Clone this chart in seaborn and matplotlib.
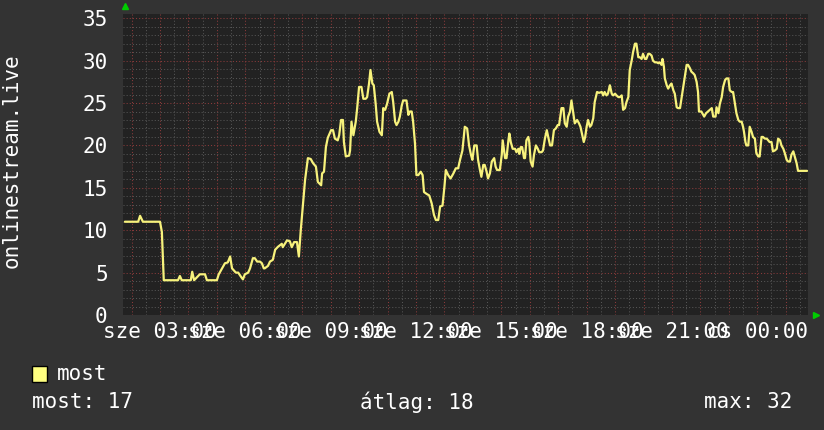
import pandas as pd
import matplotlib
matplotlib.use("Agg")
import matplotlib.pyplot as plt
from matplotlib.patches import Rectangle
import seaborn as sns

# minutes since 00:00 (sze), viewer count
minutes = [106, 134, 138, 144, 180, 184, 188, 218, 222, 226, 245, 248, 252, 264, 275, 279, 300, 304, 311, 317,
           323, 328, 332, 340, 345, 351, 355, 359, 366, 370, 376, 380, 385, 391, 395, 399, 401, 408, 412, 418,
           423, 429, 437, 439, 448, 454, 458, 463, 469, 473, 477, 482, 486, 492, 498, 503, 509, 513, 520, 522,
           526, 530, 534, 541, 545, 549, 555, 558, 562, 566, 568, 572, 579, 581, 584, 588, 593, 596, 600, 605,
           609, 614, 617, 621, 624, 628, 631, 635, 638, 643, 648, 651, 655, 659, 664, 669, 672, 676, 679, 683,
           686, 690, 693, 700, 704, 707, 711, 714, 718, 721, 725, 730, 734, 737, 742, 748, 753, 758, 762, 767,
           771, 776, 780, 783, 788, 793, 799, 804, 809, 813, 818, 823, 828, 832, 836, 839, 843, 848, 851, 855,
           858, 862, 865, 869, 872, 876, 880, 885, 888, 891, 897, 901, 903, 908, 911, 915, 917, 920, 924, 929,
           932, 936, 938, 941, 944, 948, 950, 953, 957, 959, 962, 966, 969, 973, 977, 980, 985, 988, 992, 996,
           999, 1003, 1007, 1011, 1015, 1019, 1022, 1025, 1027, 1031, 1034, 1038, 1041, 1045, 1048, 1052, 1055,
           1060, 1064, 1067, 1071, 1074, 1077, 1080, 1083, 1087, 1090, 1094, 1097, 1102, 1106, 1112, 1115, 1118,
           1122, 1125, 1129, 1133, 1136, 1140, 1143, 1147, 1150, 1154, 1157, 1161, 1164, 1168, 1171, 1175, 1178,
           1182, 1185, 1189, 1192, 1196, 1199, 1203, 1206, 1210, 1213, 1217, 1220, 1224, 1228, 1231, 1234, 1238,
           1240, 1243, 1245, 1249, 1252, 1256, 1259, 1263, 1266, 1270, 1273, 1277, 1280, 1284, 1287, 1291, 1294,
           1298, 1301, 1305, 1308, 1312, 1315, 1317, 1322, 1328, 1332, 1336, 1340, 1344, 1347, 1352, 1354, 1358,
           1361, 1365, 1368, 1372, 1375, 1379, 1382, 1386, 1389, 1393, 1396, 1400, 1403, 1407, 1410, 1412, 1415,
           1417, 1421, 1424, 1428, 1431, 1435, 1438, 1442, 1445, 1449, 1452, 1456, 1460, 1463, 1466, 1470, 1473,
           1477, 1481, 1484, 1488, 1491, 1495, 1498, 1502, 1505, 1509, 1512, 1516, 1519, 1523, 1526, 1545]

most = [11, 11, 11.7, 11, 11, 9.8, 4.1, 4.1, 4.6, 4.1, 4.1, 5.1, 4.1, 4.8, 4.8, 4.1, 4.1, 4.8, 5.5, 6.1,
        6.2, 6.9, 5.5, 5.0, 5.0, 4.5, 4.2, 4.8, 5.0, 5.5, 6.7, 6.7, 6.3, 6.3, 6.1, 5.5, 5.5, 5.8, 6.3, 6.5,
        7.7, 8.05, 8.4, 8.0, 8.8, 8.7, 8.0, 8.6, 8.6, 6.9, 10, 13.2, 15.9, 18.5, 18.4, 17.9, 17.5, 15.7, 15.3, 16.7,
        16.9, 19.8, 20.9, 21.8, 21.8, 20.8, 20.6, 21.2, 23.0, 23.0, 20.4, 18.7, 18.8, 19.4, 22.8, 21.2, 22.8, 24.4, 26.9, 26.9,
        25.5, 25.5, 25.7, 27.3, 28.9, 27.3, 27.1, 24.9, 22.8, 21.6, 21.2, 24.4, 24.2, 24.9, 26.1, 26.3, 25.1, 22.8, 22.4, 22.8,
        23.4, 24.7, 25.3, 25.3, 23.6, 24, 24, 22.8, 20.2, 16.5, 16.5, 16.9, 16.5, 14.5, 14.3, 14.1, 13.2, 11.8, 11.2, 11.2,
        12.8, 12.9, 15.1, 17.1, 16.5, 16.1, 16.7, 17.3, 17.3, 18.3, 19.4, 22.2, 22.0, 20.0, 18.9, 18.3, 20, 20, 18.3, 17.1,
        16.3, 17.7, 17.7, 16.9, 16.1, 16.7, 18.1, 18.5, 17.5, 17.1, 17.1, 18.9, 20.6, 18.5, 18.5, 20.6, 21.4, 20.4, 19.6, 19.6,
        19.2, 19.6, 19.0, 19.8, 19.8, 18.5, 18.5, 20.6, 21.0, 20.4, 18.1, 17.5, 18.9, 20.0, 19.6, 19.2, 19.2, 19.4, 20.8, 21.8,
        21.0, 20.0, 20.0, 21.8, 22.0, 22.4, 22.4, 23.6, 24.4, 24.4, 22.6, 22.2, 23.4, 24.0, 25.3, 23.8, 22.6,
        23.0, 22.6, 22.2, 21.2, 20.4, 21.0, 22.2, 23.0, 22.2, 22.4, 23.2, 25.1, 26.3, 26.2, 26.3, 25.9, 26.3,
        25.9, 26.1, 27.1, 26.1, 25.9, 26.1, 25.9, 25.7, 25.7, 25.9, 24.2, 24.4, 25.1, 25.7, 28.9, 30.0, 31.0,
        32.0, 32.0, 30.4, 30.4, 30.2, 30.8, 30.2, 30.2, 30.8, 30.8, 30.6, 30.0, 29.8, 29.8, 29.7, 29.8, 29.5,
        30.2, 29.3, 27.9, 27.1, 26.7, 27.1, 27.3, 26.5, 26.1, 24.5, 24.4, 24.4, 25.5, 26.9, 28.1, 29.5, 29.5,
        29.1, 28.7, 28.5, 28.3, 27.5, 26.3, 24.0, 24.0, 23.4, 23.8, 24.0, 24.2, 24.4, 23.4, 23.4, 24.5, 23.8,
        24.9, 25.7, 26.9, 27.7, 27.9, 27.9, 26.5, 26.3, 26.3, 24.9, 23.8, 23.0, 22.8, 22.8, 22.2, 21.6, 20.4,
        20.0, 20.0, 22.2, 21.6, 21.0, 20.8, 19.1, 18.7, 18.7, 21.0, 21.0, 20.8, 20.8, 20.6, 20.4, 20.4, 19.3,
        19.4, 19.6, 20.8, 20.6, 20.0, 19.6, 19.1, 18.3, 18.1, 18.1, 18.9, 19.3, 18.7, 17.9, 17.0, 17.0]

label_minutes = [180, 360, 540, 720, 900, 1080, 1260, 1440]
label_texts = ['sze 03:00', 'sze 06:00', 'sze 09:00', 'sze 12:00',
               'sze 15:00', 'sze 18:00', 'sze 21:00', 'cs 00:00']
y_ticks = [0, 5, 10, 15, 20, 25, 30, 35]

stat_most = 17
stat_avg = 18
stat_max = 32

df = pd.DataFrame({'minutes': minutes, 'most': most})

sns.set_theme(style="dark")
plt.rcParams['font.family'] = ['DejaVu Sans Mono', 'DejaVu Sans']

W, H = 824, 430
fig = plt.figure(figsize=(W / 100, H / 100), dpi=100)
fig.patch.set_facecolor('#333333')
ax = fig.add_axes([123 / W, (H - 315) / H, (808 - 123) / W, 301 / H])
ax.set_facecolor('#222222')

line_color = '#f7f27c'
sns.lineplot(data=df, x='minutes', y='most', ax=ax, color=line_color, linewidth=1.6, legend=False)

ax.set_xlim(102, 1547)
ax.set_ylim(0, 35.5)

# grid: red every hour / 5 units, gray dotted every 30 min / 1 unit
ax.set_xticks(list(range(120, 1547, 60)))
ax.set_xticklabels([label_texts[label_minutes.index(m)] if m in label_minutes else '' for m in range(120, 1547, 60)])
ax.set_xticks(list(range(120, 1547, 30)), minor=True)
ax.set_yticks(y_ticks)
ax.set_yticks(list(range(0, 36)), minor=True)

ax.grid(which='minor', color='#555555', linestyle=(0, (1, 2)), linewidth=0.75)
ax.grid(which='major', color='#8a3a3a', linestyle=(0, (1, 2)), linewidth=0.75)
ax.set_axisbelow(True)

ax.tick_params(axis='both', which='both', length=0, colors='white', labelsize=15)
ax.tick_params(axis='y', pad=11)
ax.tick_params(axis='x', pad=5)
for s in ax.spines.values():
    s.set_visible(False)
ax.set_xlabel('')
ax.set_ylabel('')

# green axis arrows
ax.plot([0.003], [1.025], marker='^', color='#00cc00', markersize=5, transform=ax.transAxes, clip_on=False)
ax.plot([1.011], [0.0], marker='>', color='#00cc00', markersize=5, transform=ax.transAxes, clip_on=False)

fig.text(12 / W, 1 - 161 / H, 'onlinestream.live', rotation=90, ha='center', va='center',
         color='white', fontsize=15)

# legend and summary lines
fig.patches.append(Rectangle((32 / W, 1 - 382 / H), 15 / W, 16 / H, transform=fig.transFigure,
                             facecolor='#ffff80', edgecolor='black', linewidth=1))
fig.text(57 / W, 1 - 374 / H, 'most', ha='left', va='center', color='white', fontsize=15)
fig.text(32 / W, 1 - 402 / H, f'most: {stat_most}', ha='left', va='center', color='white', fontsize=15)
fig.text(360 / W, 1 - 402 / H, f'átlag: {stat_avg}', ha='left', va='center', color='white', fontsize=15)
fig.text(792 / W, 1 - 402 / H, f'max: {stat_max}', ha='right', va='center', color='white', fontsize=15)

fig.savefig('out.png', dpi=100, facecolor=fig.get_facecolor())
